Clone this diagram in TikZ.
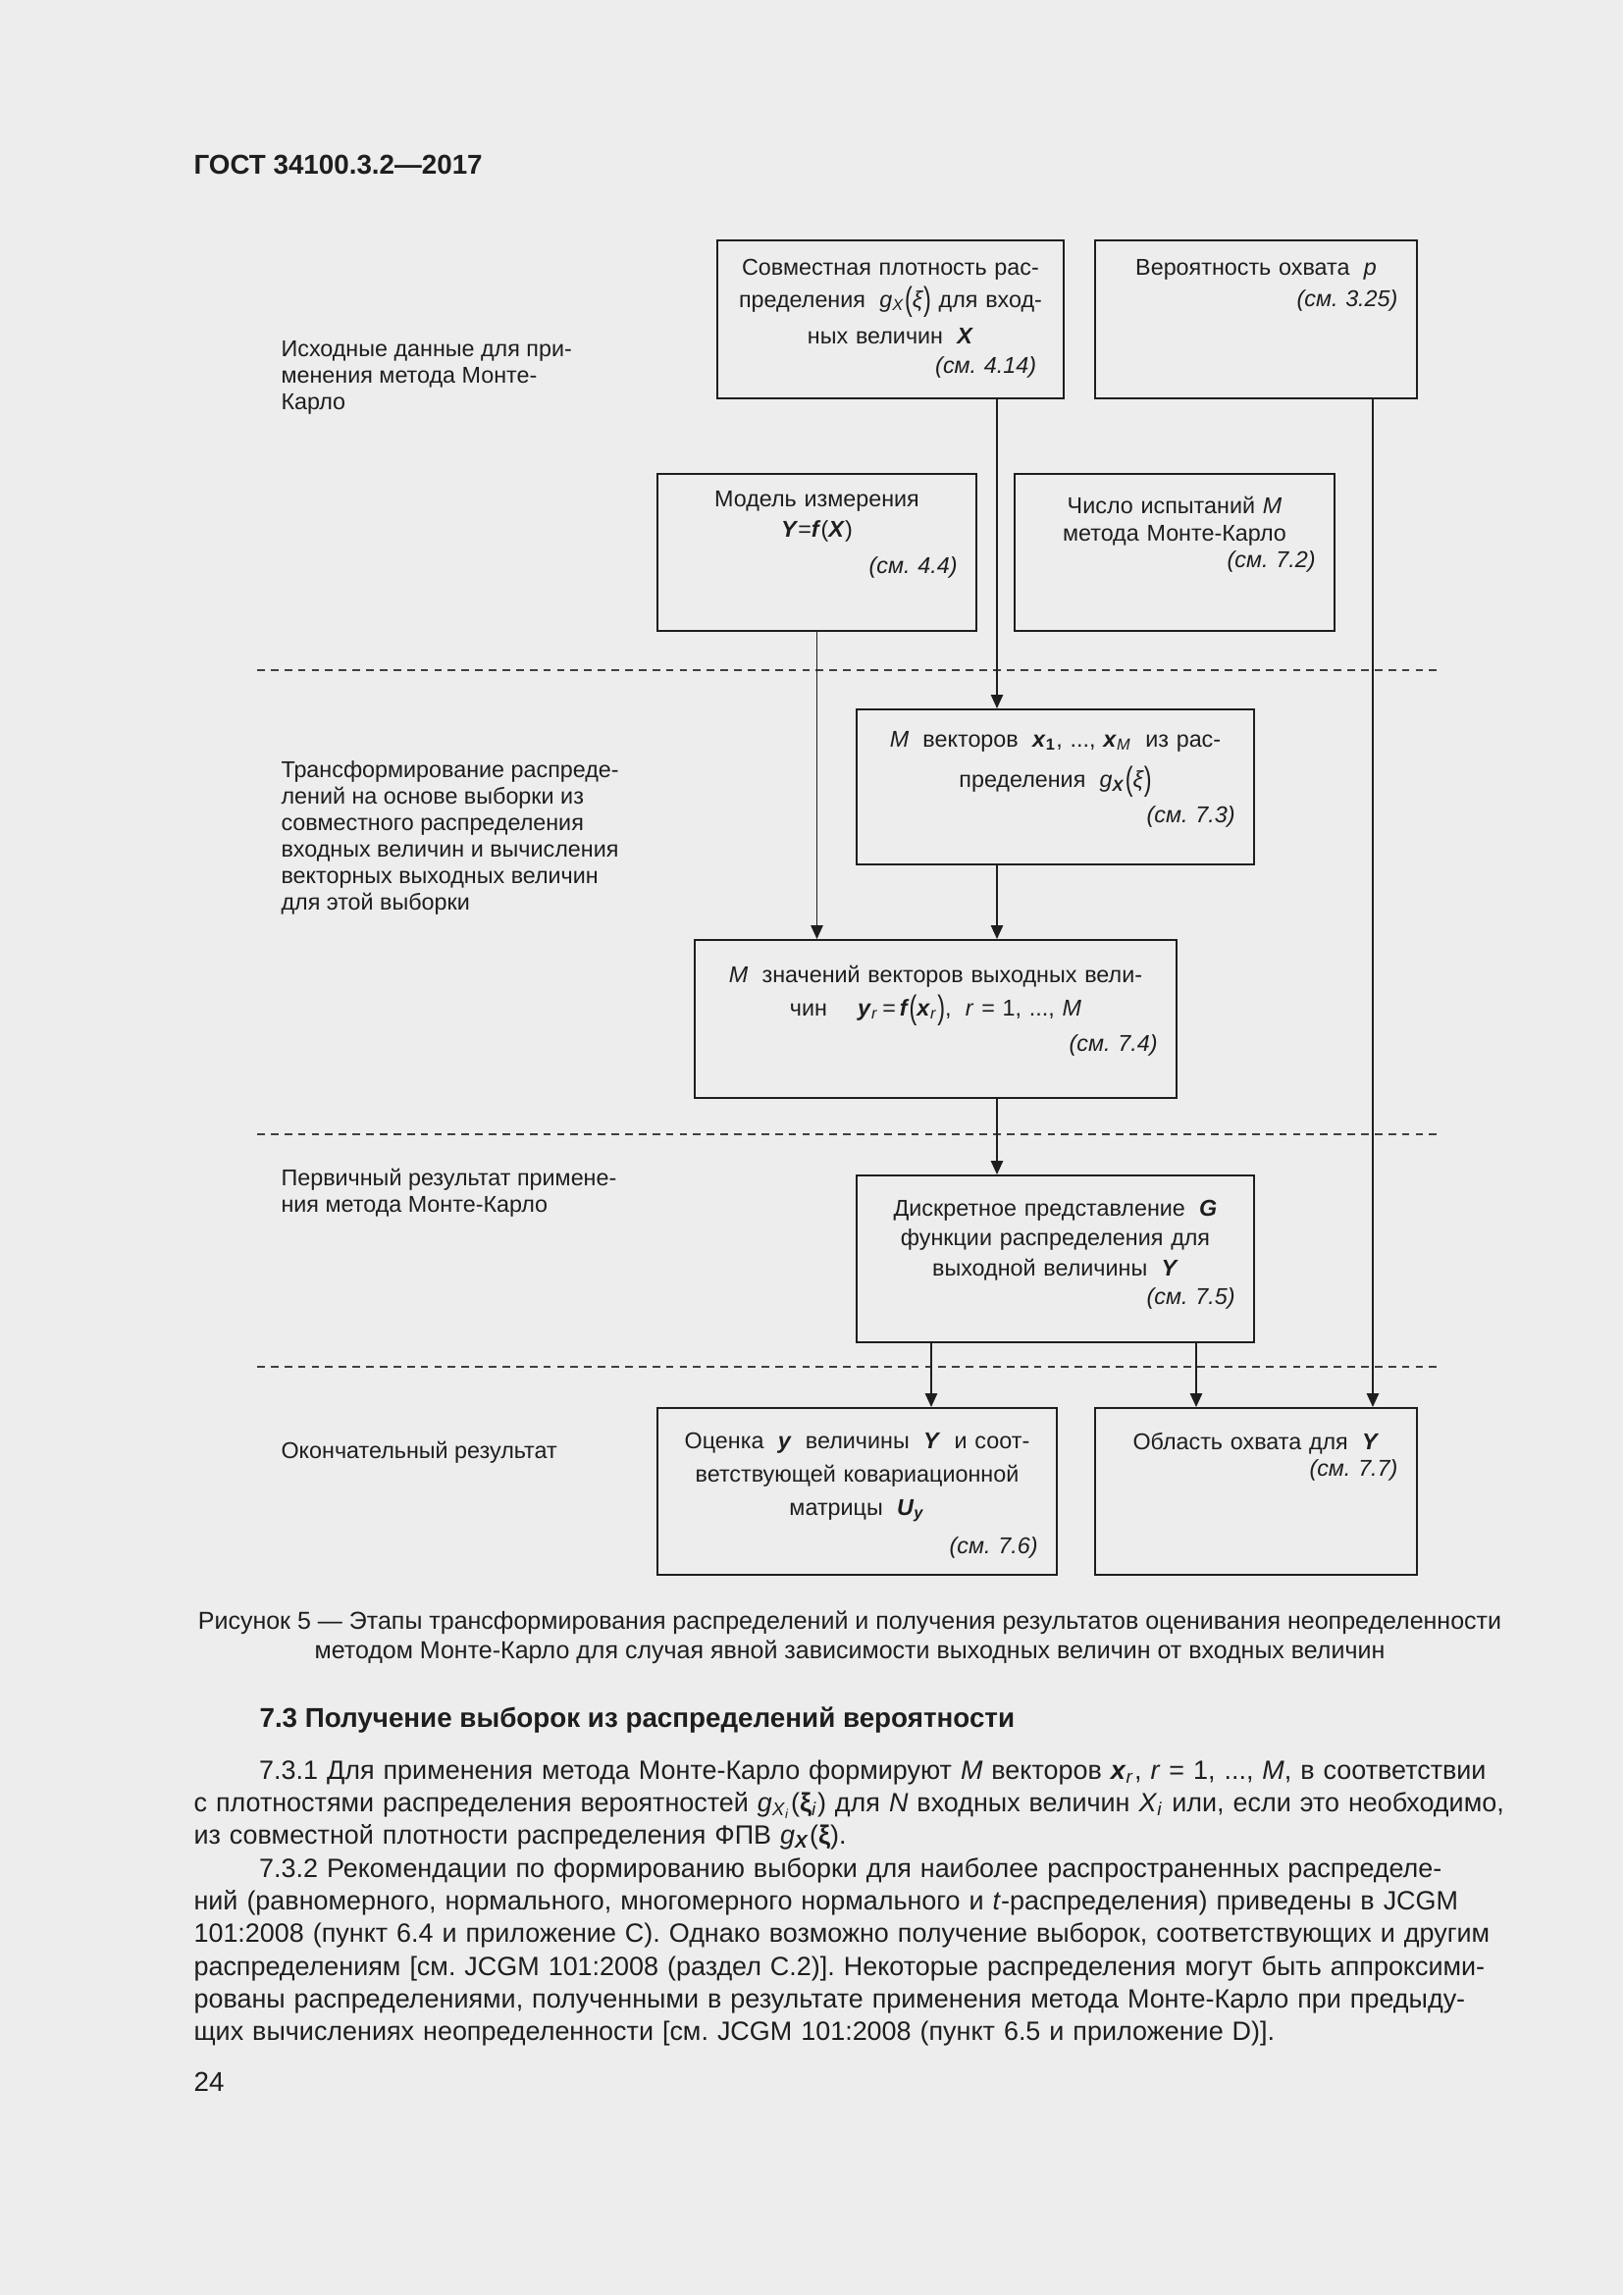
\documentclass[tikz,border=0pt]{standalone}
\usepackage{fontspec}
\setmainfont{Liberation Sans}
\usepackage{graphicx}
\usetikzlibrary{positioning, arrows.meta}

\definecolor{paper}{HTML}{EDEDED}
\definecolor{ink}{HTML}{1E1E1E}

% variables as in the standard: italic, bold italic
\newcommand{\vi}[1]{\textit{#1}}
\newcommand{\vb}[1]{\textbf{\textit{#1}}}
\newcommand{\sub}[1]{\textsubscript{#1}}
\newcommand{\tp}[1]{\raisebox{-0.12em}{\scalebox{1}[1.45]{#1}}}
\newcommand{\seeline}[1]{\mbox{}\hskip0pt plus1filll\textit{(см.~#1)}}
\newcommand{\jl}[1]{\makebox[482pt][s]{#1}}
\frenchspacing

\begin{document}
\begin{tikzpicture}[
    x=0.36pt, y=-0.36pt,
    box/.style 2 args={draw=ink, line width=0.7pt, minimum width=#1*0.36pt, minimum height=#2*0.36pt, inner sep=0pt},
    intext/.style={inner sep=0pt, align=center, text=ink, font=\fontsize{8.4}{10.5}\selectfont},
    lbl/.style={inner sep=0pt, align=left, anchor=north west, text=ink, font=\fontsize{8.4}{9.7}\selectfont},
    arr/.style={draw=ink, line width=0.6pt, -{Triangle[length=5pt, width=4.4pt]}},
    sepline/.style={draw=ink!85, line width=0.5pt, dash pattern=on 2.8pt off 2.2pt}
]
\useasboundingbox (0,0) rectangle (1654,2339);
\fill[paper] (0,0) rectangle (1654,2339);

\node[anchor=base west, inner sep=0pt, text=ink, font=\fontsize{10}{12}\selectfont\bfseries] (head) at (197,177) {ГОСТ 34100.3.2—2017};

% stage labels
\node[lbl] (lab1) at (286,347) {Исходные данные для при-\\менения метода Монте-\\Карло};
\node[lbl] (lab2) at (286,775) {Трансформирование распреде-\\лений на основе выборки из\\совместного распределения\\входных величин и вычисления\\векторных выходных величин\\для этой выборки};
\node[lbl] (lab3) at (286,1191) {Первичный результат примене-\\ния метода Монте-Карло};
\node[lbl] (lab4) at (286,1469) {Окончательный результат};

% boxes
\node[box={353}{161}] (b1) at (907.5,325.5) {};
\node[box={328}{161}] (b2) at (1280,325.5) {};
\node[box={325}{160}] (b3) at (832.5,563) {};
\node[box={326}{160}] (b4) at (1197,563) {};
\node[box={405}{158}] (b5) at (1075.5,802) {};
\node[box={491}{161}] (b6) at (953.5,1038.5) {};
\node[box={405}{170}] (b7) at (1075.5,1283) {};
\node[box={407}{170}] (b8) at (873.5,1520) {};
\node[box={328}{170}] (b9) at (1280,1520) {};

% box texts
\node[intext, text width=113pt, below=7pt of b1.north] (t1) {Совместная плотность рас-\\[1.4pt]пределения\; \vi{g}\sub{\vi{X}}\tp{(}\vi{ξ}\tp{)} для вход-\\[3pt]ных величин \;\vb{X}\\\seeline{4.14}\hspace*{3pt}};
\node[intext, text width=104pt, below=7pt of b2.north] (t2) {Вероятность охвата \;\vi{p}\\[1.3pt]\seeline{3.25}};
\node[intext, text width=103pt, below=6.3pt of b3.north] (t3) {Модель измерения\\[0.7pt]\vb{Y}=\vb{f}(\vb{X})\\[2.9pt]\seeline{4.4}};
\node[intext, text width=103.4pt, below=8.5pt of b4.north] (t4) {Число испытаний \vi{M}\\[-0.5pt]метода Монте-Карло\\[-0.8pt]\seeline{7.2}};
\node[intext, text width=131.8pt, below=8.1pt of b5.north] (t5) {\vi{M} \;векторов \;\vb{x}\sub{\textbf{1}}, ..., \vb{x}\sub{\vi{M}} \;из рас-\\[4.5pt]пределения \;\vi{g}\sub{\vb{X}}\tp{(}\vi{ξ}\tp{)}\\[2.4pt]\seeline{7.3}};
\node[intext, text width=162.8pt, below=9.5pt of b6.north] (t6) {\vi{M} \;значений векторов выходных вели-\\[1.8pt]чин \quad \vb{y}\sub{\vi{r}}\,=\,\vb{f}\tp{(}\vb{x}\sub{\vi{r}}\tp{)},\; \vi{r} = 1, ..., \vi{M}\\[2.4pt]\seeline{7.4}};
\node[intext, text width=131.8pt, below=9.2pt of b7.north] (t7) {Дискретное представление \;\vb{G}\\[0.2pt]функции распределения для\\[0.8pt]выходной величины \;\vb{Y}\\\seeline{7.5}};
\node[intext, text width=132.5pt, below=9.2pt of b8.north] (t8) {Оценка \;\vb{y}\; величины \;\vb{Y}\; и соот-\\[1.8pt]ветствующей ковариационной\\[1.8pt]матрицы \;\vb{U}\sub{\vb{y}}\\[3.5pt]\seeline{7.6}};
\node[intext, text width=104pt, below=9.2pt of b9.north] (t9) {Область охвата для \;\vb{Y}\\[-0.8pt]\seeline{7.7}};

% stage borders
\draw[sepline] (262,683) -- (1470,683);
\draw[sepline] (262,1156) -- (1470,1156);
\draw[sepline] (262,1393) -- (1470,1393);

% connectors
\coordinate (colB) at (1016,0);
\coordinate (colC) at (949,0);
\coordinate (colD) at (1219,0);
\coordinate (colE) at (1399,0);
\draw[arr] (b1.south -| colB) -- (b5.north -| colB);
\draw[arr] (b3.south) -- (b6.north -| b3.south);
\draw[arr] (b5.south -| colB) -- (b6.north -| colB);
\draw[arr] (b6.south -| colB) -- (b7.north -| colB);
\draw[arr] (b7.south -| colC) -- (b8.north -| colC);
\draw[arr] (b7.south -| colD) -- (b9.north -| colD);
\draw[arr] (b2.south -| colE) -- (b9.north -| colE);

% caption and text of the page
\node[anchor=north, inner sep=0pt, align=center, text=ink, font=\fontsize{9}{10.8}\selectfont] (cap) at (866,1641) {Рисунок 5 — Этапы трансформирования распределений и получения результатов оценивания неопределенности\\методом Монте-Карло для случая явной зависимости выходных величин от входных величин};
\node[anchor=base west, inner sep=0pt, text=ink, font=\fontsize{10}{12}\selectfont\bfseries] (sect) at (264,1760) {7.3 Получение выборок из распределений вероятности};
\node[anchor=north west, inner sep=0pt, text width=482pt, align=left, text=ink, font=\fontsize{9.7}{12}\selectfont] (body) at (197,1793) {%
\jl{\hspace*{24pt}7.3.1 Для применения метода Монте-Карло формируют \vi{M} векторов \vb{x}\sub{\vi{r}}, \vi{r} = 1, ..., \vi{M}, в соответствии}\\
\jl{с плотностями распределения вероятностей \vi{g}\sub{\vi{X}\sub{\vi{i}}}(\textbf{ξ}\sub{\vi{i}}) для \vi{N} входных величин \vi{X}\sub{\vi{i}} или, если это необходимо,}\\
из совместной плотности распределения ФПВ \vi{g}\sub{\vb{X}}(\textbf{ξ}).\\
\jl{\hspace*{24pt}7.3.2 Рекомендации по формированию выборки для наиболее распространенных распределе-}\\
\jl{ний (равномерного, нормального, многомерного нормального и \vi{t}-распределения) приведены в JCGM}\\
\jl{101:2008 (пункт 6.4 и приложение C). Однако возможно получение выборок, соответствующих и другим}\\
\jl{распределениям [см. JCGM 101:2008 (раздел C.2)]. Некоторые распределения могут быть аппроксими-}\\
\jl{рованы распределениями, полученными в результате применения метода Монте-Карло при предыду-}\\
щих вычислениях неопределенности [см. JCGM 101:2008 (пункт 6.5 и приложение D)].};
\node[anchor=base west, inner sep=0pt, text=ink, font=\fontsize{10}{12}\selectfont] (pageno) at (197,2131) {24};
\end{tikzpicture}
\end{document}
